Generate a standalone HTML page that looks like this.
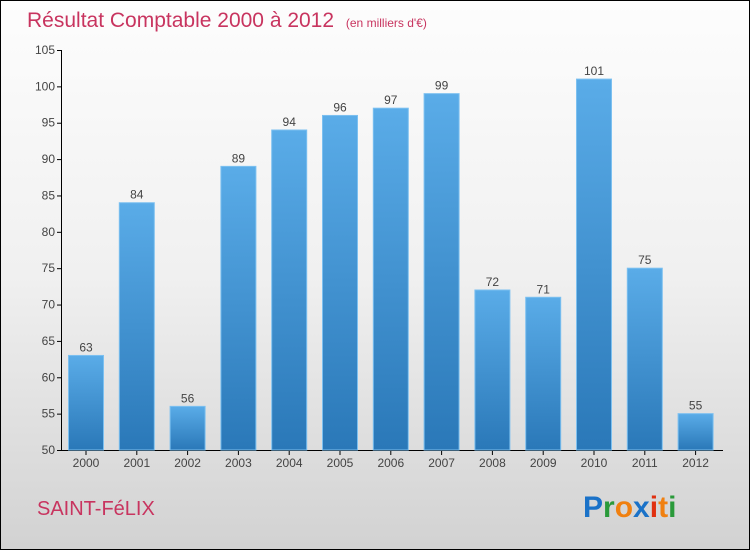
<!DOCTYPE html>
<html><head><meta charset="utf-8"><style>
body{margin:0;}
#wrap{position:relative;width:748px;height:548px;border:1px solid #000;background:linear-gradient(#fdfdfd 0%,#f0f0f0 50%,#d2d2d2 100%);font-family:"Liberation Sans",sans-serif;overflow:hidden}
</style></head><body>
<div id="wrap">
<svg id="chart" width="748" height="548">
<defs><linearGradient id="bg" x1="0" y1="0" x2="0" y2="1"><stop offset="0" stop-color="#5aace8"/><stop offset="1" stop-color="#2a78b8"/></linearGradient></defs>
<text x="26" y="26" font-size="21" fill="#c8345f">Résultat Comptable 2000 à 2012 <tspan font-size="12" dx="6">(en milliers d'€)</tspan></text>
<text x="36" y="514" font-size="20" fill="#c8345f">SAINT-FéLIX</text>
<g font-size="30" font-weight="bold" font-family="'Liberation Sans',sans-serif">
<text x="582" y="516"><tspan fill="#1a72c8">P</tspan><tspan fill="#2a9a3a">r</tspan><tspan fill="#f08010">o</tspan><tspan fill="#1a72c8">x</tspan><tspan fill="#e03010">i</tspan><tspan fill="#f08010">t</tspan><tspan fill="#2a9a3a">i</tspan></text></g>
<g id="axes"></g><g id="bars"></g>
</svg>
</div>
<script>
const years=["2000","2001","2002","2003","2004","2005","2006","2007","2008","2009","2010","2011","2012"];
const values=[63,84,56,89,94,96,97,99,72,71,101,75,55];
const yTicks=[50,55,60,65,70,75,80,85,90,95,100,105];
const NS="http://www.w3.org/2000/svg";
const y0=449,yTop=49,vMin=50,vMax=105;
function yS(v){return y0-(v-vMin)*(y0-yTop)/(vMax-vMin);}
function xS(i){return 84.5+i*50.8;}
function mk(t,a,p){const e=document.createElementNS(NS,t);for(const k in a)e.setAttribute(k,a[k]);p.appendChild(e);return e;}
const ax=document.getElementById('axes'),bg=document.getElementById('bars');
const yl=mk('line',{x1:60.5,y1:yTop,x2:60.5,y2:y0,stroke:'#000'},ax);


const xl=mk('line',{x1:60,y1:y0+0.5,x2:722,y2:y0+0.5,stroke:'#000'},ax);


yTicks.forEach(v=>{const y=yS(v);
mk('line',{x1:56,y1:y+0.5,x2:61,y2:y+0.5,stroke:'#000'},ax);
const t=mk('text',{x:54,y:y+4,'text-anchor':'end','font-size':12,fill:'#444'},ax);t.textContent=v;

});
years.forEach((yr,i)=>{const cx=xS(i),v=values[i],y=yS(v);
const r=mk('rect',{x:cx-17,y:y,width:35,height:y0-y,fill:'url(#bg)',stroke:'#7cc0f0','stroke-width':1},bg);


const l=mk('text',{x:cx+0.5,y:y-4,'text-anchor':'middle','font-size':12,fill:'#444'},bg);l.textContent=v;


mk('line',{x1:cx+0.5,y1:y0,x2:cx+0.5,y2:y0+5,stroke:'#000'},ax);
const xt=mk('text',{x:cx+0.5,y:466,'text-anchor':'middle','font-size':12,fill:'#444'},ax);xt.textContent=yr;

});
</script>
</body></html>
